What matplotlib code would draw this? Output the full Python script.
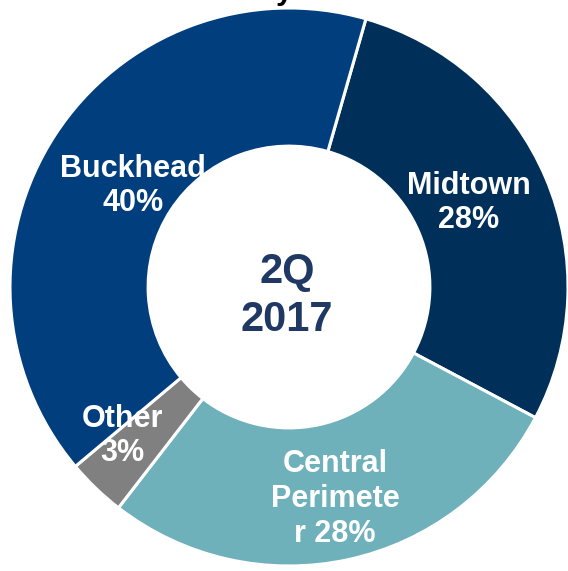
import matplotlib.pyplot as plt

plt.rcParams['font.family'] = ['Liberation Sans', 'DejaVu Sans']

submarkets = ['Midtown', 'Central Perimeter', 'Other', 'Buckhead']
shares = [28.2, 27.6, 3.4, 40.4]
labels = ['Midtown\n28%', 'Central\nPerimete\nr 28%', 'Other\n3%', 'Buckhead\n40%']
colors = ['#00305A', '#6FB1BA', '#808080', '#003E7E']

W, H = 568, 571
cx, cy, R = 289, 287, 279   # donut centre / radius in pixels

fig = plt.figure(figsize=(W / 100, H / 100), dpi=100)
ax = fig.add_axes([0, 0, 1, 1])

wedges, _ = ax.pie(shares, colors=colors, startangle=74, counterclock=False,
                   radius=1.0, wedgeprops=dict(width=0.495, edgecolor='white', linewidth=2.2))

ax.set_xlim(-cx / R, (W - cx) / R)
ax.set_ylim(-(H - cy) / R, cy / R)
ax.set_aspect('equal')
ax.axis('off')

# label spots, pixel coords
spots = [(469, 203), (335, 499), (122, 436), (133, 186)]
for lab, (px, py) in zip(labels, spots):
    ax.text((px - cx) / R, (cy - py) / R, lab, color='white', fontsize=22,
            fontweight='bold', ha='center', va='center', linespacing=1.2)

ax.text((287 - cx) / R, (cy - 296) / R, '2Q\n2017', color='#1F3864', fontsize=30,
        fontweight='bold', ha='center', va='center', linespacing=1.25)

# bottom of the cut-off title
fig.text(284 / W, 1 + 1 / H, 'y', fontsize=22, fontweight='bold', color='black',
         ha='center', va='baseline')

fig.savefig('out.png', dpi=100)
